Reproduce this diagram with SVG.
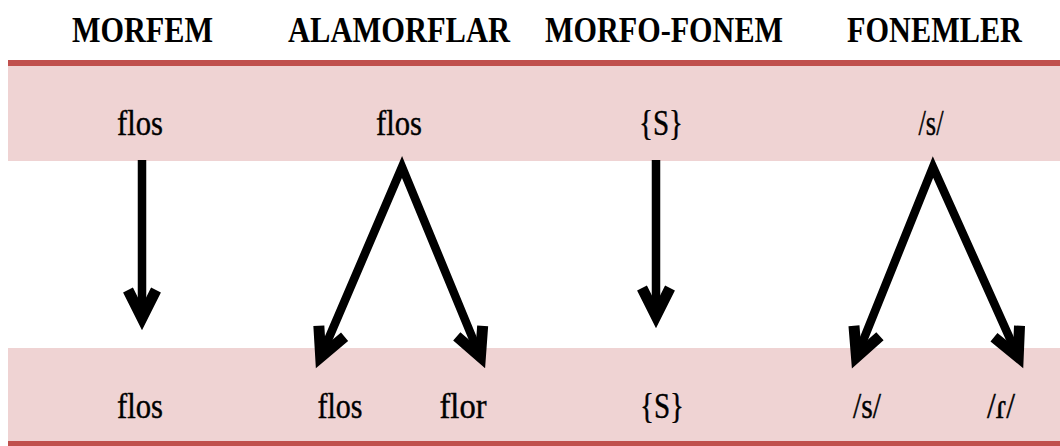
<svg xmlns="http://www.w3.org/2000/svg" width="1060" height="446" viewBox="0 0 1060 446">
<style>
.band{fill:#EFD3D3}
.rule{fill:#C0504D}
.hdr{font-family:'Times New Roman','Liberation Serif',serif;font-weight:bold;font-size:36px;fill:#000}
.lbl{font-family:'Times New Roman','Liberation Serif',serif;font-size:35px;fill:#000;stroke:#000;stroke-width:0.4;text-anchor:middle}
.arr{fill:none;stroke:#000;stroke-width:8.5;stroke-linejoin:miter;stroke-miterlimit:6}
</style>
<defs>
<marker id="ah" markerUnits="userSpaceOnUse" orient="auto-start-reverse" viewBox="-40 -30 60 60" refX="0" refY="0" markerWidth="60" markerHeight="60" overflow="visible">
<path d="M -28 -14 L 0 0 L -28 14" fill="none" stroke="#000" stroke-width="11" stroke-linejoin="miter" stroke-miterlimit="6"/>
</marker>
</defs>
<g id="bands">
<rect class="band" x="8" y="66" width="1052" height="95"/>
<rect class="rule" x="8" y="60" width="1052" height="6"/>
<rect class="band" x="8" y="348" width="1052" height="93"/>
<rect class="rule" x="8" y="441" width="1052" height="5"/>
</g>
<g id="headers">
<text id="h-morfem" class="hdr" x="72" y="42" textLength="141" lengthAdjust="spacingAndGlyphs">MORFEM</text>
<text id="h-alamorflar" class="hdr" x="288" y="42" textLength="222" lengthAdjust="spacingAndGlyphs">ALAMORFLAR</text>
<text id="h-morfofonem" class="hdr" x="545" y="42" textLength="238" lengthAdjust="spacingAndGlyphs">MORFO-FONEM</text>
<text id="h-fonemler" class="hdr" x="847" y="42" textLength="175" lengthAdjust="spacingAndGlyphs">FONEMLER</text>
</g>
<g id="n-top-morfem"><text class="lbl" x="140" y="135" textLength="46" lengthAdjust="spacingAndGlyphs">flos</text></g>
<g id="n-top-alamorf"><text class="lbl" x="399" y="135" textLength="46" lengthAdjust="spacingAndGlyphs">flos</text></g>
<g id="n-top-morfofonem"><text class="lbl" x="661" y="135" textLength="44" lengthAdjust="spacingAndGlyphs">{S}</text></g>
<g id="n-top-fonem"><text class="lbl" x="931" y="135" textLength="25" lengthAdjust="spacingAndGlyphs">/s/</text></g>
<g id="n-bot-morfem"><text class="lbl" x="140" y="418" textLength="46" lengthAdjust="spacingAndGlyphs">flos</text></g>
<g id="n-bot-flos"><text class="lbl" x="340" y="418" textLength="45" lengthAdjust="spacingAndGlyphs">flos</text></g>
<g id="n-bot-flor"><text class="lbl" x="463" y="418" textLength="47" lengthAdjust="spacingAndGlyphs">flor</text></g>
<g id="n-bot-morfofonem"><text class="lbl" x="662" y="418" textLength="44" lengthAdjust="spacingAndGlyphs">{S}</text></g>
<g id="n-bot-s"><text class="lbl" x="867" y="418" textLength="28" lengthAdjust="spacingAndGlyphs">/s/</text></g>
<g id="n-bot-r"><text class="lbl" x="1001" y="418" textLength="28" lengthAdjust="spacingAndGlyphs">/ɾ/</text></g>
<g id="connectors">
<path class="arr" d="M 142 160 L 142 318" marker-end="url(#ah)"/>
<path class="arr" d="M 656 160 L 656 316" marker-end="url(#ah)"/>
<path class="arr" d="M 320.7 357 L 402 167 L 480.4 357" marker-start="url(#ah)" marker-end="url(#ah)"/>
<path class="arr" d="M 856.5 357 L 933 167 L 1018.2 357" marker-start="url(#ah)" marker-end="url(#ah)"/>
</g>
</svg>
